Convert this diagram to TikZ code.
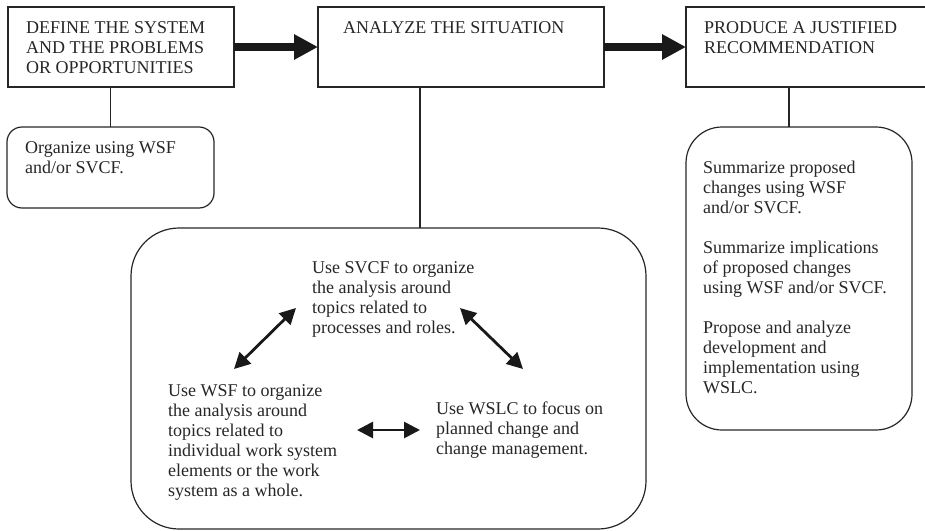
\documentclass[tikz,border=0pt]{standalone}
\usepackage{fontspec}
\setmainfont{Liberation Serif}
\usetikzlibrary{arrows.meta, positioning, calc}

\tikzset{
  frame/.style={draw=black!85, line width=1.2pt, anchor=north west, inner sep=0pt, outer sep=0pt},
  link/.style={draw=black!85, line width=1.2pt},
  boxtext/.style={anchor=north west, inner sep=0pt, align=left, text=black!85, font=\fontsize{18}{20}\selectfont},
  bigarrow/.style={line width=8pt, black!90, -{Triangle[length=24pt,width=24pt]}},
  twoway/.style={line width=2.8pt, black!90, {Triangle[length=16pt,width=16pt]}-{Triangle[length=16pt,width=16pt]}},
}

\begin{document}
\begin{tikzpicture}[x=1pt, y=-1pt]
\path[use as bounding box] (0,0) rectangle (925,530);
\clip (0,0) rectangle (925,530);

% Top row: the three steps
\node[frame, minimum width=226pt, minimum height=80pt] (define) at (8,7) {};
\node[frame, minimum width=286pt, minimum height=80pt] (analyze) at (318,7) {};
\node[frame, minimum width=250pt, minimum height=80pt] (produce) at (686,7) {};

\node[boxtext] (definetext) at (26,21) {DEFINE THE SYSTEM\\AND THE PROBLEMS\\OR OPPORTUNITIES};
\node[boxtext] (analyzetext) at (343,21) {ANALYZE THE SITUATION};
\node[boxtext] (producetext) at (704,21) {PRODUCE A JUSTIFIED\\RECOMMENDATION};

\draw[bigarrow] (define) -- (analyze);
\draw[bigarrow] (analyze) -- (produce);

% Notes under each step
\node[frame, rounded corners=15pt, minimum width=207pt, minimum height=81pt] (organize) at (7,127) {};
\node[frame, rounded corners=48pt, minimum width=515pt, minimum height=301pt] (situation) at (131,228) {};
\node[frame, rounded corners=36pt, minimum width=226pt, minimum height=303pt] (summary) at (686,127) {};

\coordinate (analyzefoot) at ([xshift=102pt]analyze.south west);
\coordinate (producefoot) at ([xshift=103pt]produce.south west);
\draw[link] (organize.north) -- (organize.north |- define.south);
\draw[link] (analyzefoot) -- (analyzefoot |- situation.north);
\draw[link] (producefoot) -- (producefoot |- summary.north);

\node[boxtext] (organizetext) at (25,141) {Organize using WSF\\and/or SVCF.};

\node[boxtext] (summarytext) at (703,161) {Summarize proposed\\changes using WSF\\and/or SVCF.\\[20pt]
  Summarize implications\\of proposed changes\\using WSF and/or SVCF.\\[20pt]
  Propose and analyze\\development and\\implementation using\\WSLC.};

% Analysis frameworks
\node[boxtext] (svcf) at (312,261) {Use SVCF to organize\\the analysis around\\topics related to\\processes and roles.};
\node[boxtext] (wsf) at (168,384) {Use WSF to organize\\the analysis around\\topics related to\\individual work system\\elements or the work\\system as a whole.};
\node[boxtext] (wslc) at (436,402) {Use WSLC to focus on\\planned change and\\change management.};

\draw[twoway] ([shift={(-16,47)}]svcf.north west) -- ([shift={(66,-15)}]wsf.north west);
\draw[twoway] ([shift={(148,47)}]svcf.north west) -- ([shift={(87,-33)}]wslc.north west);
\draw[twoway] ([shift={(189,46)}]wsf.north west) -- ([shift={(-16,28)}]wslc.north west);
\end{tikzpicture}
\end{document}
